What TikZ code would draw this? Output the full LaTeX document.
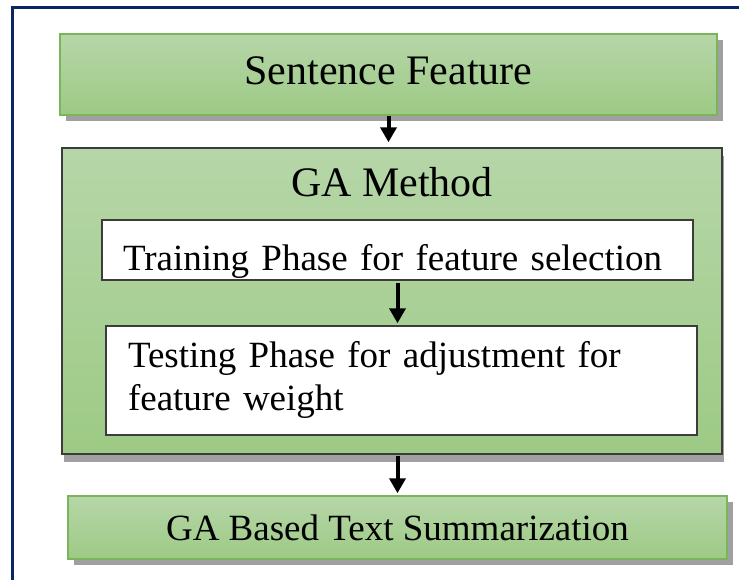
\documentclass[tikz,border=0pt]{standalone}
\usepackage{fontspec}
\setmainfont{Liberation Serif}
\usetikzlibrary{shadows,arrows.meta}

\definecolor{frameblue}{HTML}{0B2463}
\definecolor{greentop}{HTML}{B6D6A8}
\definecolor{greenbot}{HTML}{9DCA85}
\definecolor{greenedge}{HTML}{7AB55C}
\definecolor{darkedge}{HTML}{3C3C3C}
\definecolor{shadowgray}{HTML}{A0A0A0}

\begin{document}
\begin{tikzpicture}[x=1pt,y=-1pt,
  box/.style={rectangle, inner sep=0pt, line width=1.5pt},
  bigtext/.style={font=\fontsize{42}{50}\selectfont},
  smalltext/.style={font=\fontsize{37}{43}\selectfont},
  greenbox/.style={box, draw=greenedge, top color=greentop, bottom color=greenbot,
    drop shadow={shadow xshift=6pt, shadow yshift=-6pt, fill=shadowgray, opacity=1}},
  methodbox/.style={box, draw=darkedge, top color=greentop, bottom color=greenbot,
    drop shadow={shadow xshift=2pt, shadow yshift=-8pt, fill=shadowgray, opacity=1}},
  phasebox/.style={box, draw=darkedge, fill=white, align=left, smalltext},
  flowarrow/.style={line width=4pt, -{Triangle[width=16pt,length=15pt]}}
]
  % page area
  \clip (0,0) rectangle (739,579);

  % frame (top and left edges inside the page)
  \draw[frameblue, line width=3pt] (12,7) rectangle (800,650);

  % input features
  \node[greenbox, bigtext, minimum width=657pt, minimum height=81pt,
        text height=30pt, text depth=11pt] (sf) at (388.5,74.5) {Sentence Feature};

  % GA method container
  \node[methodbox, bigtext, minimum width=660pt, minimum height=306pt,
        text height=30pt, text depth=240pt] (ga) at (392,301) {GA Method};

  % phases
  \node[phasebox, minimum width=591pt, minimum height=60pt, text width=549pt,
        text height=50pt, text depth=10pt] (tr) at (397.5,250)
        {Training Phase for feature selection};
  \node[phasebox, minimum width=591pt, minimum height=109pt, text width=547pt,
        text height=30pt, text depth=57pt] (te) at (401.5,380.5)
        {Testing Phase for adjustment for\\feature weight};

  % output
  \node[greenbox, smalltext, minimum width=659pt, minimum height=63pt,
        text height=40pt, text depth=15pt] (gb) at (397.5,527.5)
        {GA Based Text Summarization};

  % flow
  \draw[flowarrow, shorten >=5pt] (sf.south) -- (sf.south |- ga.north);
  \draw[flowarrow, shorten <=2pt, shorten >=2pt] (tr.south) -- (tr.south |- te.north);
  \draw[flowarrow, shorten <=1pt, shorten >=2pt] (gb.north |- ga.south) -- (gb.north);
\end{tikzpicture}
\end{document}
